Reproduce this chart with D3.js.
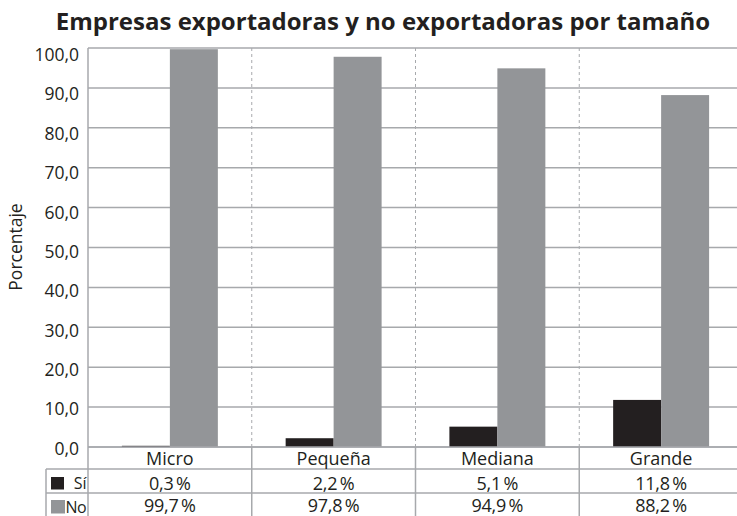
<!DOCTYPE html>
<html>
<head>
<meta charset="utf-8">
<script src="https://cdn.jsdelivr.net/npm/d3@7"></script>
<style>
  html, body { margin: 0; padding: 0; background: #fff; }
  svg { display: block; }
  text { font-family: "Open Sans", "Noto Sans", sans-serif; fill: #231f20; }
</style>
</head>
<body>
<svg id="chart" width="737" height="516"></svg>
<script>
// Share of firms that export (Sí) and do not export (No), by firm size
const categories = ["Micro", "Pequeña", "Mediana", "Grande"];
const siValues = [0.3, 2.2, 5.1, 11.8];
const noValues = [99.7, 97.8, 94.9, 88.2];
const yTicks = [0, 10, 20, 30, 40, 50, 60, 70, 80, 90, 100];
const seriesNames = ["Sí", "No"];
const seriesColors = ["#231f20", "#939598"];

const svg = d3.select("#chart");
const gridColor = "#a7a9ac";

const plotLeft = 88, plotRight = 743, plotTop = 48, zeroY = 447;
const row1 = 469, row2 = 493, tableBottom = 516;
const tableLeft = 46;

const x = d3.scaleBand().domain(categories).range([plotLeft, plotRight]).paddingInner(0).paddingOuter(0);
const y = d3.scaleLinear().domain([0, 100]).range([zeroY, plotTop]);
// tick labels sit on a slightly tighter ladder than the gridlines
const yLabel = d3.scaleLinear().domain([0, 100]).range([zeroY + 1.5, plotTop + 7]);
const barW = x.bandwidth() * 0.293;

// Title
svg.append("text")
  .attr("x", 383).attr("y", 30)
  .attr("text-anchor", "middle")
  .style("font-size", "24px").style("font-weight", "700")
  .text("Empresas exportadoras y no exportadoras por tamaño");

// Horizontal gridlines
svg.append("g").selectAll("line").data(yTicks).join("line")
  .attr("x1", plotLeft).attr("x2", plotRight)
  .attr("y1", d => y(d)).attr("y2", d => y(d))
  .attr("stroke", gridColor).attr("stroke-width", 1.5);

// Y axis tick labels
const yAxis = d3.axisLeft(yLabel).tickValues(yTicks).tickSize(0).tickPadding(9)
  .tickFormat(d => d3.format(".1f")(d).replace(".", ","));
const yg = svg.append("g").attr("transform", `translate(${plotLeft},0)`).call(yAxis);
yg.select(".domain").remove();
yg.attr("font-family", null).attr("font-size", null);
yg.selectAll("text")
  .style("font-size", "17.5px")
  .style("fill", "#231f20");

// Y axis title
svg.append("text")
  .attr("transform", "translate(22,247) rotate(-90)")
  .attr("text-anchor", "middle")
  .style("font-size", "17.5px")
  .text("Porcentaje");

// Dashed separators between categories inside the plot
const seps = categories.slice(1).map(c => x(c));
svg.append("g").selectAll("line").data(seps).join("line")
  .attr("x1", d => d).attr("x2", d => d)
  .attr("y1", plotTop).attr("y2", zeroY)
  .attr("stroke", gridColor).attr("stroke-width", 1)
  .attr("stroke-dasharray", "3,3");

// Bars
const barsG = svg.append("g");
barsG.selectAll("rect.si").data(categories).join("rect")
  .attr("class", "si")
  .attr("x", c => x(c) + x.bandwidth() / 2 - barW)
  .attr("width", barW)
  .attr("y", (c, i) => y(siValues[i]))
  .attr("height", (c, i) => y(0) - y(siValues[i]))
  .attr("fill", seriesColors[0]);
barsG.selectAll("rect.no").data(categories).join("rect")
  .attr("class", "no")
  .attr("x", c => x(c) + x.bandwidth() / 2)
  .attr("width", barW)
  .attr("y", (c, i) => y(noValues[i]))
  .attr("height", (c, i) => y(0) - y(noValues[i]))
  .attr("fill", seriesColors[1]);

// Left axis line
svg.append("line")
  .attr("x1", plotLeft).attr("x2", plotLeft).attr("y1", plotTop).attr("y2", tableBottom)
  .attr("stroke", gridColor).attr("stroke-width", 1.5);

// Data table under the plot
const tg = svg.append("g");
tg.append("line").attr("x1", plotLeft).attr("x2", plotRight).attr("y1", zeroY).attr("y2", zeroY)
  .attr("stroke", gridColor).attr("stroke-width", 1.5);
[row1, row2].forEach(ry => {
  tg.append("line").attr("x1", tableLeft).attr("x2", plotRight).attr("y1", ry).attr("y2", ry)
    .attr("stroke", gridColor).attr("stroke-width", 1.5);
});
tg.append("line").attr("x1", tableLeft).attr("x2", tableLeft).attr("y1", row1).attr("y2", tableBottom)
  .attr("stroke", gridColor).attr("stroke-width", 1.5);
tg.selectAll("line.sep").data(seps).join("line")
  .attr("class", "sep")
  .attr("x1", d => d).attr("x2", d => d).attr("y1", zeroY).attr("y2", tableBottom)
  .attr("stroke", gridColor).attr("stroke-width", 1.5);

// Category labels
tg.selectAll("text.cat").data(categories).join("text")
  .attr("class", "cat")
  .attr("x", c => x(c) + x.bandwidth() / 2).attr("y", 465)
  .attr("text-anchor", "middle")
  .style("font-size", "18px")
  .text(c => c);

// Value rows
const fmt = v => d3.format(".1f")(v).replace(".", ",") + "\u2009%";
[[siValues, 489.5], [noValues, 512]].forEach(([vals, ty]) => {
  tg.append("g").selectAll("text").data(categories).join("text")
    .attr("x", c => x(c) + x.bandwidth() / 2).attr("y", ty)
    .attr("text-anchor", "middle")
    .style("font-size", "18px").style("letter-spacing", "-0.3px")
    .text((c, i) => fmt(vals[i]));
});

// Legend keys inside the table
tg.append("rect").attr("x", 51).attr("y", 477).attr("width", 13).attr("height", 12.5).attr("fill", seriesColors[0]);
tg.append("text").attr("x", 86.5).attr("y", 488.5).attr("text-anchor", "end")
  .style("font-size", "16px").text(seriesNames[0]);
tg.append("rect").attr("x", 51).attr("y", 500).attr("width", 14).attr("height", 13.5).attr("fill", seriesColors[1]);
tg.append("text").attr("x", 65.5).attr("y", 512.5)
  .style("font-size", "16px").style("letter-spacing", "-0.5px").text(seriesNames[1]);
</script>
</body>
</html>
